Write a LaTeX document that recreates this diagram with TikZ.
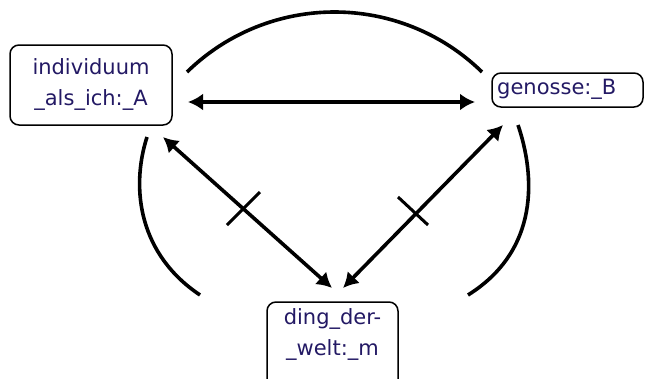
\documentclass[tikz,border=0pt]{standalone}
\usepackage{fontspec}
\setmainfont{DejaVu Sans}
\usetikzlibrary{arrows.meta}
\definecolor{txtc}{RGB}{35,25,100}
\begin{document}
\begin{tikzpicture}[x=1pt,y=-1pt,
  box/.style={draw, line width=1.5pt, rounded corners=9pt, inner sep=0pt},
  lbl/.style={text=txtc, font=\fontsize{21}{31}\selectfont, align=center, inner sep=0pt},
  conn/.style={line width=3.6pt},
  dbl/.style={conn, {Latex[length=15pt,width=17pt]}-{Latex[length=15pt,width=17pt]}},
  tickline/.style={line width=3pt},
  arcline/.style={line width=3.6pt}]
\useasboundingbox (0,0) rectangle (645,378);
% nodes
\node[box, minimum width=162pt, minimum height=80pt] (a) at (91,85) {};
\node[lbl] (atext) at (91,84) {individuum\\\_als\_ich:\_A};
\node[box, minimum width=151pt, minimum height=34pt] (b) at (567.5,90) {};
\node[lbl, anchor=west] (btext) at (497,89) {genosse:\_B};
\node[box, minimum width=131pt, minimum height=88pt] (m) at (332.5,346) {};
\node[lbl] (mtext) at (332.5,334) {ding\_der-\\\_welt:\_m};
% connector ends
\coordinate (ab1) at (188,102);
\coordinate (ab2) at (475,102);
\coordinate (am1) at (163,137);
\coordinate (am2) at (332,288);
\coordinate (bm1) at (503,125);
\coordinate (bm2) at (343,288);
\draw[dbl] (ab1) -- (ab2);
\draw[dbl] (am1) -- (am2);
\draw[dbl] (bm1) -- (bm2);
% ticks
\coordinate (t1a) at (227,225); \coordinate (t1b) at (260,192);
\coordinate (t2a) at (398,197); \coordinate (t2b) at (428,225);
\draw[tickline] (t1a) -- (t1b);
\draw[tickline] (t2a) -- (t2b);
% arcs
\coordinate (top1) at (187,72); \coordinate (top2) at (482,72);
\coordinate (l1) at (147,137); \coordinate (l2) at (200,295);
\coordinate (r1) at (518,125); \coordinate (r2) at (468,295);
\draw[arcline] (top1) .. controls (269,-8) and (400,-8) .. (top2);
\draw[arcline] (l1) .. controls (130,190) and (140,255) .. (l2);
\draw[arcline] (r1) .. controls (535,175) and (540,250) .. (r2);
\end{tikzpicture}
\end{document}
